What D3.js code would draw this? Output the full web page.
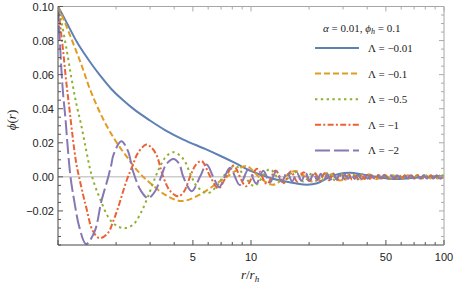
<!DOCTYPE html>
<html>
<head>
<meta charset="utf-8">
<script src="https://cdn.jsdelivr.net/npm/d3@7"></script>
<style>
  body { margin: 0; background: #fff; }
  svg { display: block; }
  .tick-label { font-family: "Liberation Sans", Arial, sans-serif; font-size: 11px; fill: #222; }
  .math { font-family: "Liberation Serif", "Times New Roman", serif; fill: #222; }
</style>
</head>
<body>
<svg id="chart" width="454" height="288"></svg>
<script>
const width = 454,
  height = 288

// phi(r), [r/r_h, phi]
const phiL001 = [
  [1, 0.1], [1.06, 0.0948], [1.127, 0.089], [1.269, 0.0781], [1.488, 0.0664], [1.651, 0.0596],
  [1.889, 0.0516], [2.146, 0.0455], [2.497, 0.0393], [2.995, 0.0331], [3.584, 0.0275], [4.46, 0.0219],
  [5.78, 0.0164], [7.0, 0.0121], [8.26, 0.0082], [9.88, 0.0037], [11.35, 0.0011], [13.0, -0.0011],
  [14.9, -0.0026], [17.0, -0.0038], [19.5, -0.0046], [22.0, -0.0038], [25.7, 0], [28.5, 0.0017],
  [32.6, 0.0024], [37.0, 0.0016], [40.5, 0.0008], [44.8, 0], [51.0, -0.0009], [59.0, -0.0012],
  [68.0, -0.0007], [79.6, 0], [90.0, 0.0004], [100, 0.0003]
]

const phiL01 = [
  [1, 0.1], [1.1, 0.089], [1.21, 0.0772], [1.331, 0.0649], [1.465, 0.0514], [1.677, 0.0361],
  [1.967, 0.0219], [2.305, 0.0108], [2.66, 0.0019], [3.04, -0.0042], [3.58, -0.0104], [4.37, -0.0142],
  [5.44, -0.0104], [6.64, -0.0039], [7.48, 0], [8.36, 0.0037], [9.5, 0.0064], [11.0, 0],
  [13.0, -0.0046], [17.0, 0.0035], [21.0, -0.0029], [25.0, 0.0024], [29.0, -0.0021], [33.0, 0.0018],
  [37.0, -0.0016], [41.0, 0.0015], [45.0, -0.0013], [49.0, 0.0012], [53.0, -0.0011], [57.0, 0.0011],
  [61.0, -0.001], [65.0, 0.001], [69.0, -0.0009], [73.0, 0.0009], [77.0, -0.0009], [81.0, 0.0009],
  [85.0, -0.0009], [89.0, 0.0009], [93.0, -0.0009], [97.0, 0.0009], [100, 0]
]

const phiL05 = [
  [1, 0.1], [1.04, 0.0914], [1.104, 0.0758], [1.172, 0.0584], [1.24, 0.0437], [1.32, 0.0302],
  [1.397, 0.0161], [1.46, 0.0055], [1.518, -0.0016], [1.644, -0.0124], [1.889, -0.0261], [2.17, -0.0301],
  [2.447, -0.0281], [2.69, -0.021], [2.925, -0.0116], [3.2, 0], [3.46, 0.0084], [3.67, 0.0125],
  [3.96, 0.0145], [4.29, 0.0125], [4.55, 0.009], [4.92, 0], [5.31, -0.0063], [6.0, -0.0095],
  [6.75, -0.0045], [7.16, 0], [8.26, 0.0066], [9.3, 0], [10.4, -0.0053], [12.5, 0.0044],
  [14.6, -0.0038], [16.7, 0.0033], [18.8, -0.0029], [20.9, 0.0026], [23.0, -0.0024], [25.1, 0.0022],
  [27.2, -0.002], [29.3, 0.0019], [31.4, -0.0017], [33.5, 0.0016], [35.6, -0.0015], [37.7, 0.0015],
  [39.8, -0.0014], [41.9, 0.0013], [44.0, -0.0013], [46.1, 0.0012], [48.2, -0.0011], [50.3, 0.0011],
  [52.4, -0.001], [54.5, 0.001], [56.7, -0.001], [58.9, 0.001], [61.1, -0.0009], [63.3, 0.0009],
  [65.5, -0.0009], [67.7, 0.0009], [69.9, -0.0009], [72.1, 0.0009], [74.3, -0.0009], [76.5, 0.0009],
  [78.7, -0.0009], [80.9, 0.0009], [83.1, -0.0009], [85.3, 0.0009], [87.5, -0.0009], [89.7, 0.0009],
  [91.9, -0.0009], [94.1, 0.0009], [96.3, -0.0009], [98.5, 0.0009], [100, 0]
]

const phiL1 = [
  [1, 0.1], [1.03, 0.0878], [1.061, 0.0749], [1.1, 0.0572], [1.147, 0.0396], [1.196, 0.0219],
  [1.244, 0.0078], [1.285, 0], [1.348, -0.0104], [1.402, -0.0182], [1.518, -0.032], [1.644, -0.036],
  [1.816, -0.0329], [1.928, -0.0263], [2.046, -0.0182], [2.26, -0.0026], [2.447, 0.0072], [2.597, 0.0141],
  [2.868, 0.019], [3.03, 0.0175], [3.23, 0.0131], [3.51, 0], [3.8, -0.0081], [4.2, -0.0114],
  [4.5, -0.0086], [4.83, 0], [5.19, 0.0072], [5.55, 0.0092], [6.16, 0], [6.77, -0.0068],
  [7.43, 0], [8.1, 0.0066], [9.43, -0.0055], [10.76, 0.0047], [12.09, -0.0042], [13.42, 0.0037],
  [14.75, -0.0034], [16.08, 0.0031], [17.41, -0.0029], [18.74, 0.0027], [20.07, -0.0025], [21.4, 0.0023],
  [22.73, -0.0022], [24.06, 0.0021], [25.39, -0.002], [26.72, 0.0019], [28.05, -0.0018], [29.38, 0.0017],
  [30.71, -0.0016], [32.04, 0.0016], [33.37, -0.0015], [34.7, 0.0014], [36.0, -0.0014], [37.4, 0.0013],
  [38.7, -0.0013], [40.0, 0.0012], [41.4, -0.0012], [42.7, 0.0012], [44.0, -0.0011], [45.8, 0.0011],
  [47.6, -0.001], [49.5, 0.001], [51.5, -0.001], [53.5, 0.001], [55.7, -0.0009], [57.9, 0.0009],
  [60.2, -0.0009], [62.6, 0.0009], [65.1, -0.0009], [67.7, 0.0009], [70.4, -0.0009], [73.2, 0.0009],
  [76.2, -0.0009], [79.2, 0.0009], [82.4, -0.0009], [85.7, 0.0009], [89.1, -0.0009], [92.7, 0.0009],
  [96.4, -0.0009], [100, 0]
]

const phiL2 = [
  [1, 0.1], [1.02, 0.0819], [1.04, 0.0643], [1.061, 0.0496], [1.094, 0.0337], [1.12, 0.019],
  [1.161, 0], [1.218, -0.0151], [1.292, -0.0298], [1.397, -0.0394], [1.549, -0.032], [1.677, -0.0144],
  [1.816, -0.0006], [1.889, 0.0072], [1.94, 0.0131], [2.128, 0.0209], [2.305, 0.0151], [2.447, 0.0033],
  [2.7, -0.0085], [2.93, -0.0125], [3.18, -0.0086], [3.42, 0], [3.63, 0.0072], [3.96, 0.0105],
  [4.24, 0.0078], [4.46, 0], [4.93, -0.0084], [5.44, 0], [5.89, 0.0072], [6.37, 0],
  [6.84, -0.0061], [7.3, 0], [7.79, 0.0054], [8.74, -0.0048], [9.69, 0.0043], [10.64, -0.0039],
  [11.59, 0.0036], [12.54, -0.0033], [13.49, 0.0031], [14.44, -0.0029], [15.39, 0.0027], [16.34, -0.0026],
  [17.29, 0.0024], [18.24, -0.0023], [19.19, 0.0022], [20.14, -0.0021], [21.09, 0.002], [22.04, -0.0019],
  [22.99, 0.0018], [23.94, -0.0018], [24.89, 0.0017], [25.84, -0.0016], [26.79, 0.0016], [27.74, -0.0015],
  [28.69, 0.0015], [29.64, -0.0014], [30.6, 0.0014], [31.8, -0.0013], [33.1, 0.0013], [34.4, -0.0012],
  [35.8, 0.0012], [37.2, -0.0011], [38.7, 0.0011], [40.2, -0.0011], [41.8, 0.001], [43.5, -0.001],
  [45.2, 0.001], [47.0, -0.001], [48.9, 0.001], [50.9, -0.0009], [52.9, 0.0009], [55.0, -0.0009],
  [57.2, 0.0009], [59.5, -0.0009], [61.9, 0.0009], [64.4, -0.0009], [67.0, 0.0009], [69.7, -0.0009],
  [72.5, 0.0009], [75.4, -0.0009], [78.4, 0.0009], [81.5, -0.0009], [84.8, 0.0009], [88.2, -0.0009],
  [91.7, 0.0009], [95.4, -0.0009], [99.2, 0.0009], [100, 0]
]

const lambdaLabels = ['−0.01', '−0.1', '−0.5', '−1', '−2']
const xTickLabels = [5, 10, 50, 100]
const xMinorTicks = [2, 3, 4, 6, 7, 8, 9, 20, 30, 40, 60, 70, 80, 90]
const yTickValues = [0.1, 0.08, 0.06, 0.04, 0.02, 0, -0.02]

const series = [phiL001, phiL01, phiL05, phiL1, phiL2]
const colors = ['#5e81b5', '#e19c24', '#8fb032', '#eb6235', '#8778b3']
const dashes = [null, '6,3', '2.4,3.4', '6,2.3,2,2.3', '15,4']

const plotLeft = 58, plotRight = 444, plotTop = 6.5, plotBottom = 245

let x = d3.scaleLog().domain([1, 100]).range([plotLeft, plotRight])
let y = d3.scaleLinear().domain([-0.04, 0.1]).range([plotBottom, plotTop])

let svg = d3.select('#chart')

svg.append('defs')
  .append('clipPath')
  .attr('id', 'plotClip')
  .append('rect')
  .attr('x', plotLeft)
  .attr('y', plotTop)
  .attr('width', plotRight - plotLeft)
  .attr('height', plotBottom - plotTop)

// zero line
svg.append('line')
  .attr('x1', plotLeft).attr('x2', plotRight)
  .attr('y1', y(0)).attr('y2', y(0))
  .attr('stroke', '#b3b3b3')
  .attr('stroke-width', 1)

let line = d3.line()
  .x(d => x(d[0]))
  .y(d => y(d[1]))
  .curve(d3.curveCatmullRom.alpha(0.5))

let curves = svg.append('g').attr('clip-path', 'url(#plotClip)')

curves.selectAll('path')
  .data(series)
  .enter()
    .append('path')
    .attr('d', line)
    .attr('fill', 'none')
    .attr('stroke', (d, i) => colors[i])
    .attr('stroke-width', 2)
    .attr('stroke-dasharray', (d, i) => dashes[i])

// frame: bottom/left darker, top/right lighter
let frame = svg.append('g')
frame.append('line').attr('x1', plotLeft).attr('x2', plotRight).attr('y1', plotTop).attr('y2', plotTop)
  .attr('stroke', '#a6a6a6')
frame.append('line').attr('x1', plotRight).attr('x2', plotRight).attr('y1', plotTop).attr('y2', plotBottom)
  .attr('stroke', '#a6a6a6')
frame.append('line').attr('x1', plotLeft).attr('x2', plotRight).attr('y1', plotBottom).attr('y2', plotBottom)
  .attr('stroke', '#444')
frame.append('line').attr('x1', plotLeft).attr('x2', plotLeft).attr('y1', plotTop).attr('y2', plotBottom)
  .attr('stroke', '#444')

let xMajor = [1].concat(xTickLabels)
let yMinor = d3.range(-0.04, 0.1001, 0.005).filter(v => !yTickValues.some(t => Math.abs(t - v) < 1e-6))

function ticksX(vals, len) {
  vals.forEach(v => {
    frame.append('line').attr('x1', x(v)).attr('x2', x(v))
      .attr('y1', plotBottom).attr('y2', plotBottom - len).attr('stroke', '#555')
    frame.append('line').attr('x1', x(v)).attr('x2', x(v))
      .attr('y1', plotTop).attr('y2', plotTop + len).attr('stroke', '#aaa')
  })
}
function ticksY(vals, len) {
  vals.forEach(v => {
    frame.append('line').attr('x1', plotLeft).attr('x2', plotLeft + len)
      .attr('y1', y(v)).attr('y2', y(v)).attr('stroke', '#555')
    frame.append('line').attr('x1', plotRight).attr('x2', plotRight - len)
      .attr('y1', y(v)).attr('y2', y(v)).attr('stroke', '#aaa')
  })
}
ticksX(xMajor, 5)
ticksX(xMinorTicks, 3)
ticksY(yTickValues, 5)
ticksY(yMinor, 3)

svg.append('g').selectAll('text')
  .data(xTickLabels)
  .enter()
    .append('text')
    .attr('class', 'tick-label')
    .attr('x', d => x(d))
    .attr('y', 261)
    .attr('text-anchor', 'middle')
    .text(d => d)

svg.append('g').selectAll('text')
  .data(yTickValues)
  .enter()
    .append('text')
    .attr('class', 'tick-label')
    .attr('x', 54)
    .attr('y', d => y(d) + 4)
    .attr('text-anchor', 'end')
    .text(d => d3.format('.2f')(d).replace('-', '−'))

// axis labels
let xl = svg.append('text').attr('class', 'math')
  .attr('x', 250).attr('y', 279).attr('text-anchor', 'middle').attr('font-size', 13)
xl.append('tspan').attr('font-style', 'italic').text('r')
xl.append('tspan').text('/')
xl.append('tspan').attr('font-style', 'italic').text('r')
xl.append('tspan').attr('font-style', 'italic').attr('font-size', 9).attr('dy', 3).text('h')

let yl = svg.append('text').attr('class', 'math')
  .attr('transform', 'translate(16,120) rotate(-90)')
  .attr('text-anchor', 'middle').attr('font-size', 13)
yl.append('tspan').attr('font-style', 'italic').text('ϕ')
yl.append('tspan').text('(')
yl.append('tspan').attr('font-style', 'italic').text('r')
yl.append('tspan').text(')')

// legend
let legend = svg.append('g')
let title = legend.append('text').attr('class', 'math')
  .attr('x', 323).attr('y', 32).attr('font-size', 11)
title.append('tspan').attr('font-style', 'italic').text('α')
title.append('tspan').text(' = 0.01,  ')
title.append('tspan').attr('font-style', 'italic').text('ϕ')
title.append('tspan').attr('font-style', 'italic').attr('font-size', 8).attr('dy', 2).text('h')
title.append('tspan').attr('dy', -2).text(' = 0.1')

let rows = legend.selectAll('g.row')
  .data(lambdaLabels)
  .enter()
    .append('g')
    .attr('class', 'row')
    .attr('transform', (d, i) => `translate(0, ${48 + i * 25.6})`)

rows.append('line')
  .attr('x1', 315).attr('x2', 359)
  .attr('stroke', (d, i) => colors[i])
  .attr('stroke-width', 2)
  .attr('stroke-dasharray', (d, i) => dashes[i])

rows.append('text')
  .attr('class', 'math')
  .attr('x', 368)
  .attr('y', 4)
  .attr('font-size', 11)
  .text(d => `Λ = ${d}`)
</script>
</body>
</html>
